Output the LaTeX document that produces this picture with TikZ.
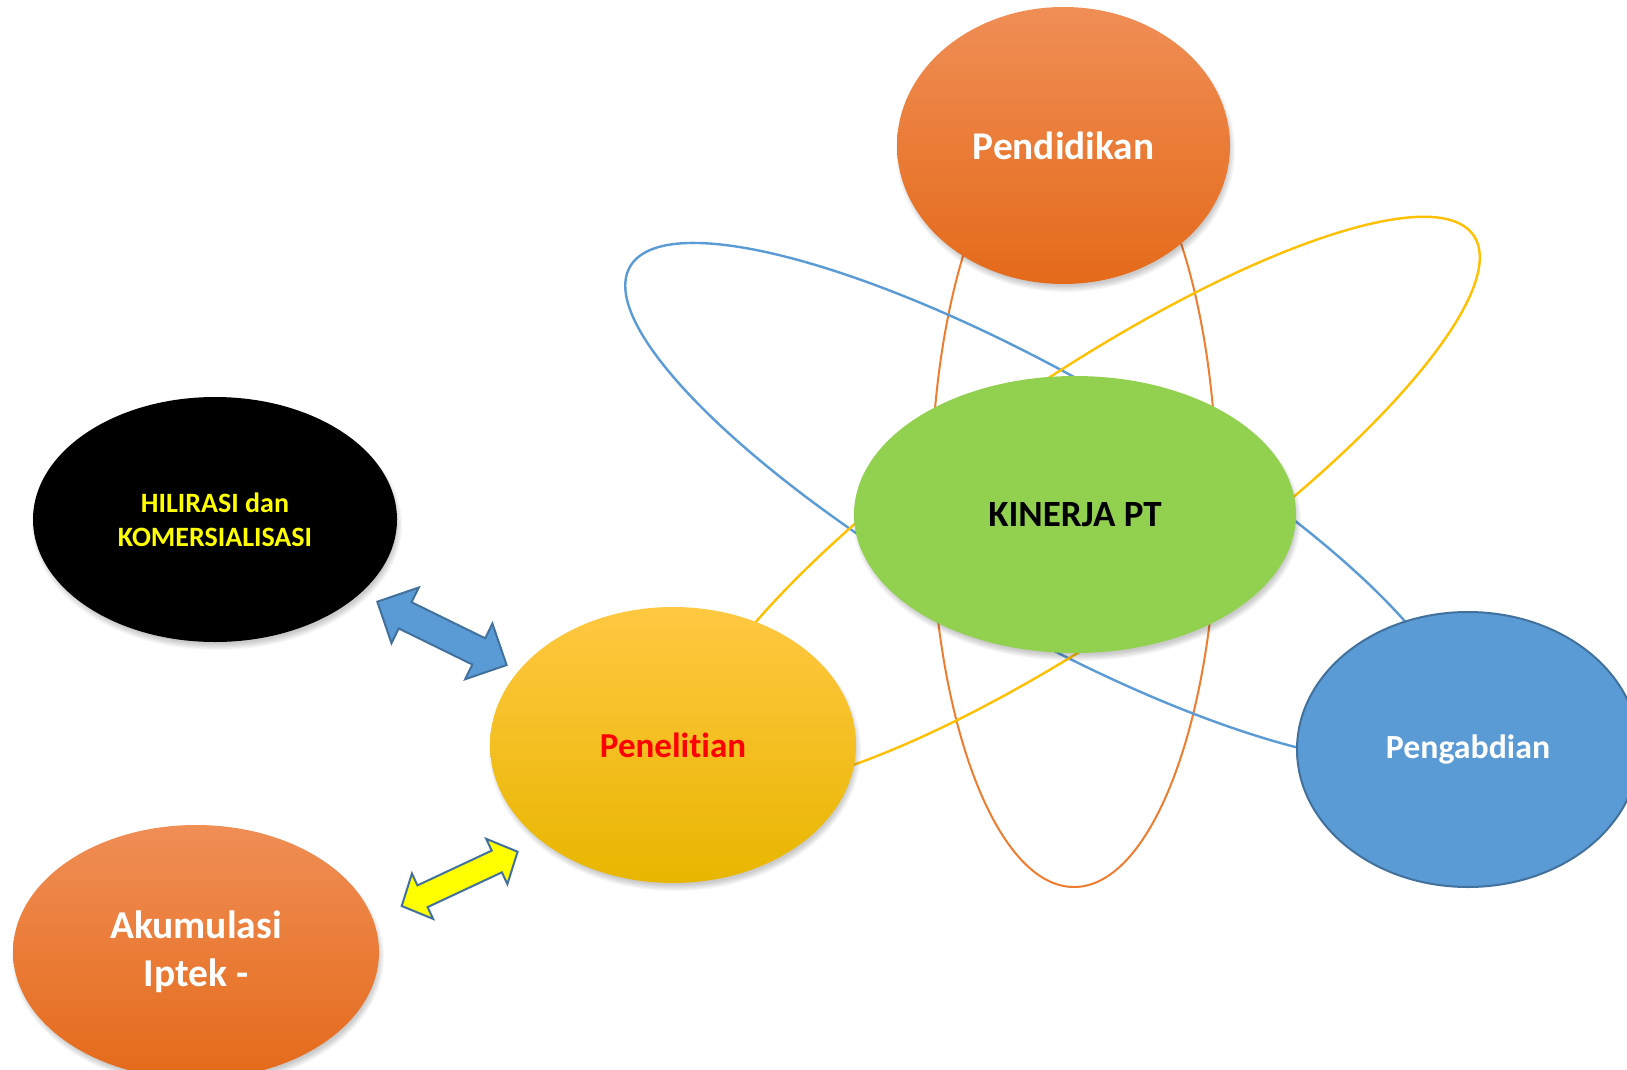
\documentclass[tikz,border=0pt]{standalone}
\usepackage{fontspec}
\setmainfont{Carlito}[Ligatures=NoCommon]
\usetikzlibrary{shapes.geometric}

\definecolor{orTop}{RGB}{240,142,86}
\definecolor{orBot}{RGB}{228,106,26}
\definecolor{orLine}{RGB}{237,125,49}
\definecolor{yeTop}{RGB}{255,200,66}
\definecolor{yeMid}{RGB}{255,192,0}
\definecolor{yeBot}{RGB}{232,182,0}
\definecolor{grn}{RGB}{146,208,80}
\definecolor{blu}{RGB}{91,155,213}
\definecolor{bluEdge}{RGB}{65,113,156}
\definecolor{yelTxt}{RGB}{255,255,0}

% soft drop shadow under an ellipse: centre x, centre y, rx, ry
\newcommand\softshadow[4]{%
  \foreach \k in {0,...,5}{%
    \fill[black,opacity=0.035] ({#1+2},{#2+5}) ellipse ({#3+3-1.2*\k} and {#4+3-1.2*\k});}}

% two-headed block arrow: start x, start y, angle, length, head length,
% head half-width, shaft half-width, style
\newcommand\twoway[8]{%
  \begin{scope}[shift={(#1,#2)}, rotate=#3]
    \filldraw[#8] (0,0) -- (#5,#6) -- (#5,#7) -- ({#4-#5},#7) -- ({#4-#5},#6)
      -- (#4,0) -- ({#4-#5},-#6) -- ({#4-#5},-#7) -- (#5,-#7) -- (#5,-#6) -- cycle;
  \end{scope}}

\tikzset{
  blob/.style={ellipse, inner sep=0pt, align=center, font=\bfseries},
  orbit/.style={line width=2.4pt},
  blockarrow/.style={draw=bluEdge, line width=2pt, line join=miter},
}

\begin{document}
\begin{tikzpicture}[x=1pt, y=-1pt]
\useasboundingbox (0,0) rectangle (1627,1070);
\fill[white] (0,0) rectangle (1627,1070);
\clip (0,0) rectangle (1627,1070);

% orbits round the centre
\draw[orbit, orLine, line width=2pt] (1074,500) ellipse (143 and 387);
\draw[orbit, blu, rotate around={-29.75:(1041.8,502.2)}] (1041.8,502.2) ellipse (474.4 and 125);
\draw[orbit, yeMid, rotate around={34.4:(1082.5,503.2)}] (1082.5,503.2) ellipse (474 and 123);

% Pendidikan
\softshadow{1063.5}{145.5}{166.5}{138.5}
\node[blob, top color=orTop, bottom color=orBot, text=white,
  minimum width=333, minimum height=277, font=\bfseries\fontsize{39.3}{46}\selectfont]
  (pend) at (1063.5,145.5) {Pendidikan};

% KINERJA PT
\softshadow{1075}{514.5}{221}{138.5}
\node[blob, fill=grn, text=black,
  minimum width=442, minimum height=277, font=\bfseries\fontsize{37}{44}\selectfont]
  (kin) at (1075,514.5) {KINERJA PT};

% Penelitian
\softshadow{673}{745}{183}{138}
\node[blob, top color=yeTop, middle color=yeMid, bottom color=yeBot, text=red,
  minimum width=366, minimum height=276, font=\bfseries\fontsize{35}{42}\selectfont]
  (pen) at (673,745) {Penelitian};

% Pengabdian
\node[blob, fill=blu, draw=bluEdge, line width=2pt, text=white,
  minimum width=342, minimum height=275, font=\bfseries\fontsize{33.8}{40}\selectfont]
  (peng) at (1468,749.5) {Pengabdian};

% HILIRASI dan KOMERSIALISASI
\softshadow{215}{519.5}{182}{122.5}
\node[blob, fill=black, text=yelTxt,
  minimum width=364, minimum height=245, font=\bfseries\fontsize{28}{34}\selectfont]
  (hil) at (215,519.5) {HILIRASI dan\\KOMERSIALISASI};

% Akumulasi Iptek
\softshadow{196}{952}{183}{127}
\node[blob, top color=orTop, bottom color=orBot, text=white,
  minimum width=366, minimum height=254, font=\bfseries\fontsize{39.5}{48}\selectfont]
  (aku) at (196,952) {Akumulasi\\Iptek -};

% block arrows between the side ellipses and Penelitian
\twoway{377.3}{601.7}{-26.1}{144}{31}{31}{14.6}{blockarrow, fill=blu}
\twoway{401.7}{906}{25.1}{128}{23}{25}{12}{blockarrow, fill=yelTxt}

\end{tikzpicture}
\end{document}
